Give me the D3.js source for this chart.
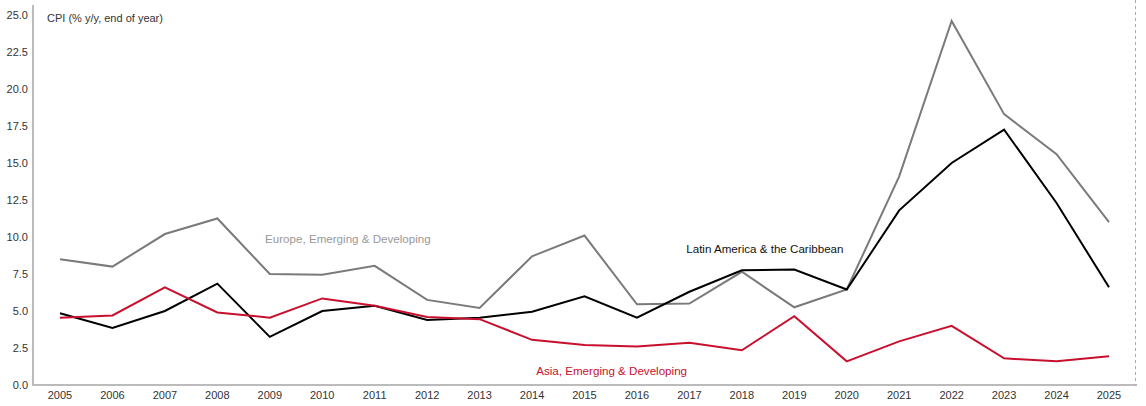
<!DOCTYPE html>
<html>
<head>
<meta charset="utf-8">
<script src="https://cdn.jsdelivr.net/npm/d3@7"></script>
<style>
  body { margin: 0; background: #fff; }
  text { font-family: "Liberation Sans", Arial, sans-serif; }
</style>
</head>
<body>
<script>
// Data
var years = [2005, 2006, 2007, 2008, 2009, 2010, 2011, 2012, 2013, 2014, 2015,
             2016, 2017, 2018, 2019, 2020, 2021, 2022, 2023, 2024, 2025];

var europe = [8.5, 8.0, 10.2, 11.25, 7.5, 7.45, 8.05, 5.75, 5.2, 8.7, 10.1,
              5.45, 5.5, 7.65, 5.25, 6.45, 14.1, 24.6, 18.3, 15.6, 11.0];

var latam = [4.85, 3.85, 5.0, 6.85, 3.25, 5.0, 5.35, 4.4, 4.55, 4.95, 6.0,
             4.55, 6.3, 7.75, 7.8, 6.45, 11.8, 15.0, 17.25, 12.3, 6.6];

var asia = [4.55, 4.7, 6.6, 4.9, 4.55, 5.85, 5.35, 4.6, 4.45, 3.05, 2.7,
            2.6, 2.85, 2.35, 4.65, 1.6, 2.95, 4.0, 1.8, 1.6, 1.95];

var yTicks = [0, 2.5, 5, 7.5, 10, 12.5, 15, 17.5, 20, 22.5, 25];

var series = [
  {name: "Europe, Emerging & Developing", values: europe, color: "#7a7a7a", labelColor: "#999", labelYear: 2008.91, labelValue: 9.85},
  {name: "Latin America & the Caribbean", values: latam, color: "#000000", labelColor: "#111", labelYear: 2016.94, labelValue: 9.2},
  {name: "Asia, Emerging & Developing", values: asia, color: "#c8102e", labelColor: "#c8102e", labelYear: 2014.08, labelValue: 0.95}
];

var W = 1146, H = 406;
var axisLeft = 33, axisBottom = 385, plotTop = 15;

var svg = d3.select("body").append("svg")
    .attr("width", W)
    .attr("height", H);

// Scales
var x = d3.scaleLinear()
    .domain([2005, 2025])
    .range([60, 1109]);

var y = d3.scaleLinear()
    .domain([0, 25])
    .range([axisBottom, plotTop]);

// Y tick labels
svg.append("g")
    .selectAll("text")
    .data(yTicks)
    .enter().append("text")
      .attr("x", 28)
      .attr("y", function(d) { return y(d); })
      .attr("dy", "0.35em")
      .attr("text-anchor", "end")
      .attr("font-size", 11)
      .attr("fill", "#333")
      .text(function(d) { return d3.format(".1f")(d); });

// X tick labels
svg.append("g")
    .selectAll("text")
    .data(years)
    .enter().append("text")
      .attr("x", function(d) { return x(d); })
      .attr("y", 395)
      .attr("dy", "0.35em")
      .attr("text-anchor", "middle")
      .attr("font-size", 11)
      .attr("fill", "#333")
      .text(function(d) { return d; });

// Axis lines
svg.append("line")
    .attr("x1", axisLeft).attr("x2", axisLeft)
    .attr("y1", 5).attr("y2", axisBottom)
    .attr("stroke", "#bbb")
    .attr("stroke-width", 2);

svg.append("line")
    .attr("x1", axisLeft - 1).attr("x2", 1137)
    .attr("y1", axisBottom).attr("y2", axisBottom)
    .attr("stroke", "#bbb")
    .attr("stroke-width", 2);

// dashed line on the right
svg.append("line")
    .attr("x1", 1135.5).attr("x2", 1135.5)
    .attr("y1", 0).attr("y2", axisBottom)
    .attr("stroke", "#aaa")
    .attr("stroke-width", 1)
    .attr("stroke-dasharray", "3,3");

// Title
svg.append("text")
    .attr("x", 47)
    .attr("y", 18)
    .attr("dy", "0.35em")
    .attr("font-size", 11)
    .attr("fill", "#333")
    .text("CPI (% y/y, end of year)");

// Lines
var line = d3.line()
    .x(function(d, i) { return x(years[i]); })
    .y(function(d) { return y(d); });

svg.selectAll(".series")
    .data(series)
    .enter().append("path")
      .attr("class", "series")
      .attr("fill", "none")
      .attr("stroke", function(d) { return d.color; })
      .attr("stroke-width", 2)
      .attr("d", function(d) { return line(d.values); });

// Series labels
svg.selectAll(".lbl")
    .data(series)
    .enter().append("text")
      .attr("class", "lbl")
      .attr("x", function(d) { return x(d.labelYear); })
      .attr("y", function(d) { return y(d.labelValue); })
      .attr("dy", "0.35em")
      .attr("font-size", 11.6)
      .attr("fill", function(d) { return d.labelColor; })
      .text(function(d) { return d.name; });
</script>
</body>
</html>
